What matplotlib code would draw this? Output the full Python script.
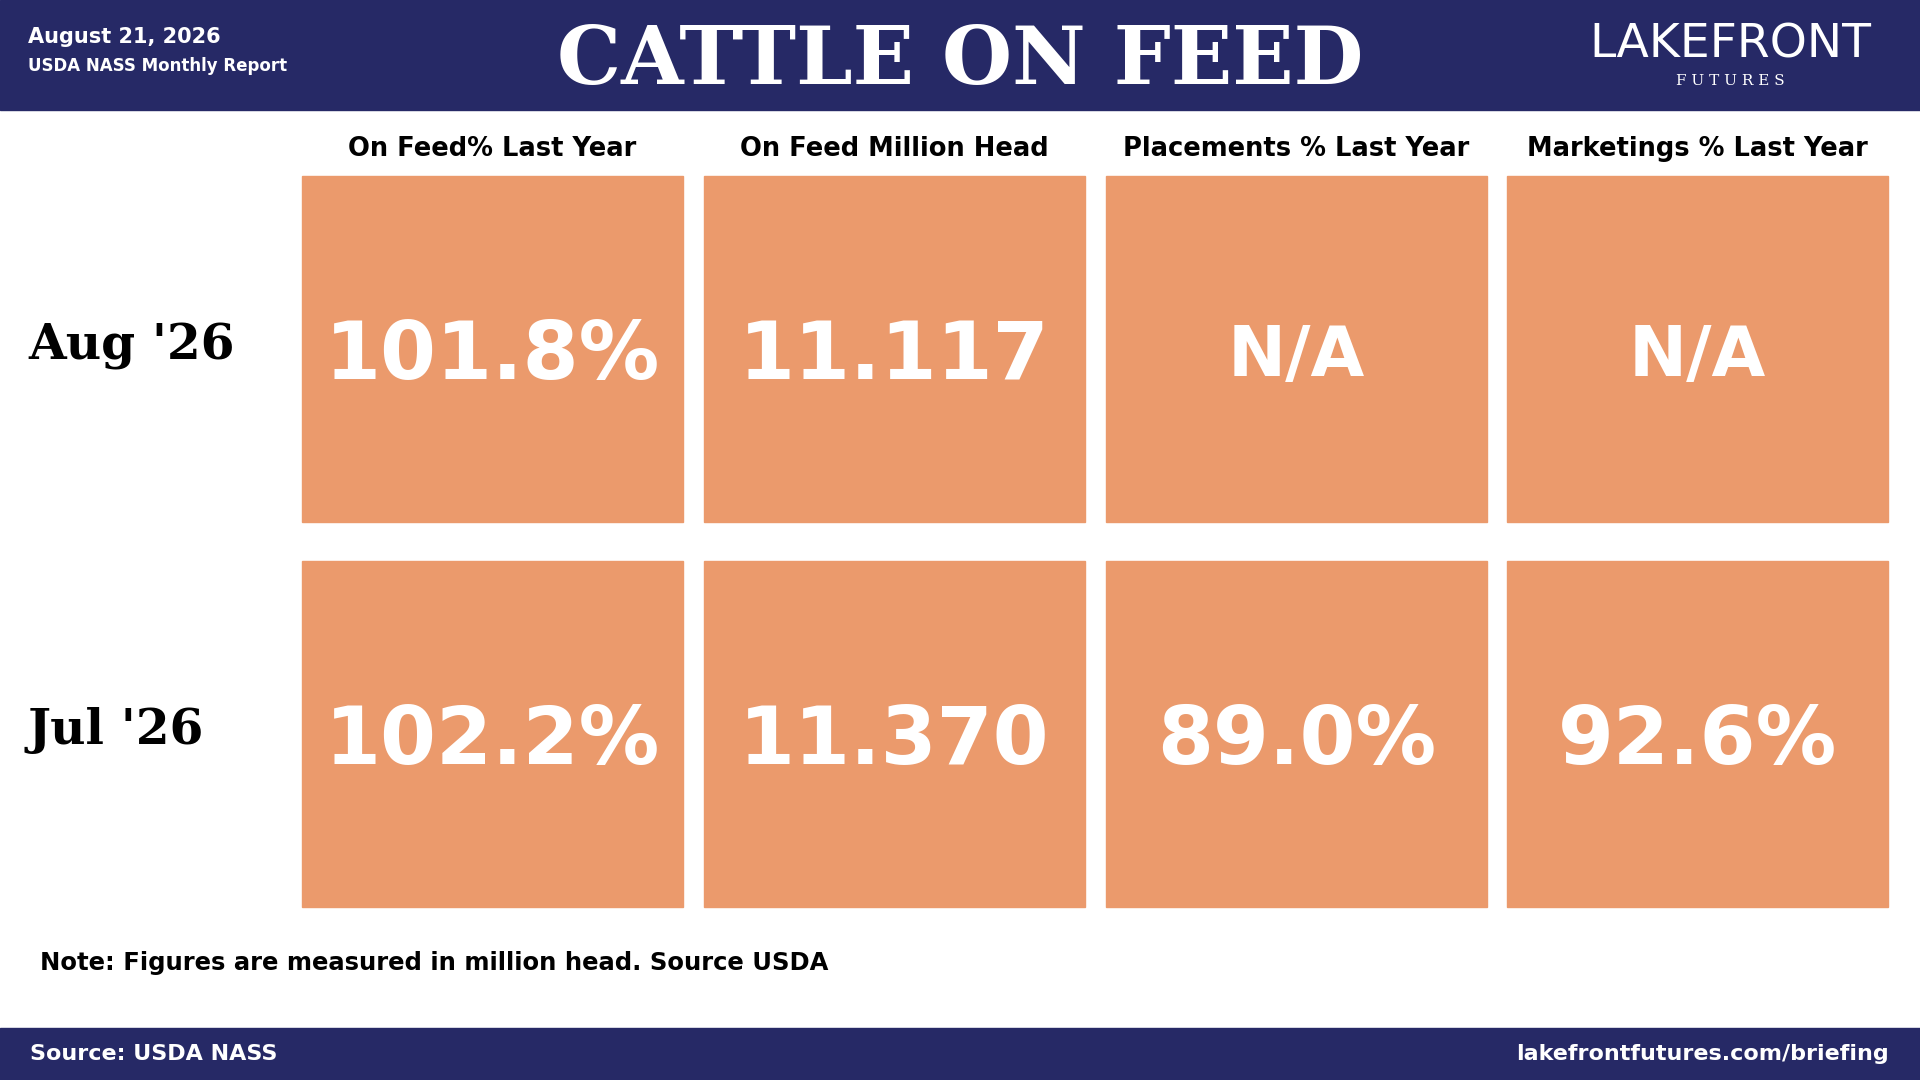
import matplotlib.pyplot as plt
from matplotlib.patches import Rectangle

# ----------------
# DATA
# ----------------
columns = ['On Feed% Last Year', 'On Feed Million Head',
           'Placements % Last Year', 'Marketings % Last Year']
rows = ["Aug '26", "Jul '26"]
values = [
    ['101.8%', '11.117', 'N/A', 'N/A'],
    ['102.2%', '11.370', '89.0%', '92.6%'],
]

NAVY = '#262966'
ORANGE = '#EB9A6C'
W, H = 1920, 1080

fig = plt.figure(figsize=(19.2, 10.8), dpi=100)
ax = fig.add_axes([0, 0, 1, 1])
ax.set_xlim(0, W)
ax.set_ylim(H, 0)
ax.axis('off')

# header / footer bands
ax.add_patch(Rectangle((0, 0), W, 110, color=NAVY))
ax.add_patch(Rectangle((0, 1028), W, 52, color=NAVY))

ax.text(28, 37, 'August 21, 2026', color='white', fontsize=15, weight='bold', va='center')
ax.text(28, 66, 'USDA NASS Monthly Report', color='white', fontsize=12, weight='bold', va='center')
ax.text(960, 62, 'CATTLE ON FEED', color='white', fontsize=58, weight='bold',
        family='DejaVu Serif', ha='center', va='center')
ax.text(1730, 45, 'LAKEFRONT', color='white', fontsize=34,
        family='DejaVu Sans', ha='center', va='center')
ax.text(1730, 81, 'F U T U R E S', color='white', fontsize=11, family='DejaVu Serif',
        ha='center', va='center')

# grid of tiles
col_x = [302, 704, 1106, 1507]
box_w = 381
row_y = [176, 561]
box_h = 346

for j, c in enumerate(columns):
    ax.text(col_x[j] + box_w / 2, 149, c, fontsize=18.5, weight='bold',
            ha='center', va='center')

for i, r in enumerate(rows):
    ax.text(28, row_y[i] + box_h / 2 - 3, r, fontsize=35, weight='bold',
            family='DejaVu Serif', va='center')
    for j in range(len(columns)):
        ax.add_patch(Rectangle((col_x[j], row_y[i]), box_w, box_h, color=ORANGE))
        v = values[i][j]
        fs = 50 if v == 'N/A' else 58
        ax.text(col_x[j] + box_w / 2, row_y[i] + box_h / 2 + 8, v, color='white',
                fontsize=fs, weight='bold', ha='center', va='center')

ax.text(40, 963, 'Note: Figures are measured in million head. Source USDA',
        fontsize=17.5, weight='bold', va='center')

ax.text(30, 1054, 'Source: USDA NASS', color='white', fontsize=16, weight='bold', va='center')
ax.text(1889, 1054, 'lakefrontfutures.com/briefing', color='white', fontsize=16,
        weight='bold', ha='right', va='center')

fig.savefig('out.png', dpi=100)
